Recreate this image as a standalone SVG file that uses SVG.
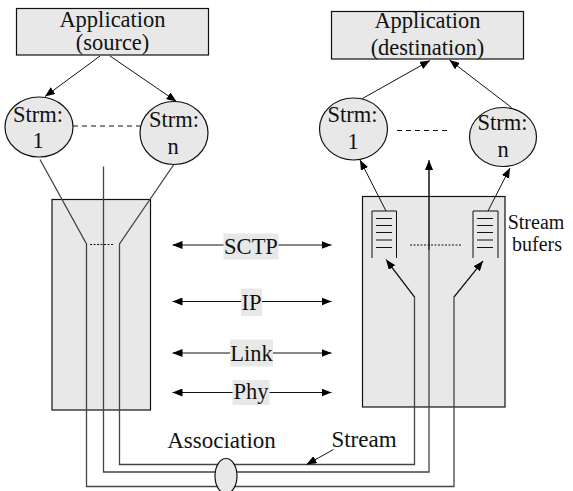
<svg xmlns="http://www.w3.org/2000/svg" width="573" height="491" viewBox="0 0 573 491">
<defs>
<marker id="ah" markerWidth="10" markerHeight="8" refX="10" refY="4" orient="auto" markerUnits="userSpaceOnUse">
<path d="M0,0 L10,4 L0,8 Z" fill="#000"/>
</marker>
<style>
.box{fill:#e8e8e8;stroke:#111;stroke-width:1.2}
.ln{fill:none;stroke:#111;stroke-width:1}
.assoc{fill:none;stroke:#444;stroke-width:1.3}
.arr{fill:none;stroke:#111;stroke-width:1;marker-end:url(#ah)}
.dash{stroke:#111;stroke-width:1;stroke-dasharray:5,4}
.dot{stroke:#111;stroke-width:1;stroke-dasharray:2,1.5}
.lbl{fill:#e8e8e8}
</style>
</defs>
<rect width="573" height="491" fill="#fff"/>

<g id="src-stack"><rect class="box" x="52" y="199.5" width="98.5" height="210.5"/></g>
<g id="dst-stack"><rect class="box" x="362.5" y="196.5" width="142.5" height="210.5"/></g>

<g id="connectors">
<path class="assoc" d="M40,159.5 L86.5,244 L86.5,486.5 L454,486.5 L454,297 L483,261"/>
<path class="assoc" d="M103.5,166.5 L103.5,472 L429,472 L429,168"/>
<path class="assoc" d="M173.5,165 L119.5,244 L119.5,464.5 L414.5,464.5 L414.5,297 L387,261"/>
<path class="arr" d="M454,297 L483,261"/>
<path class="arr" d="M414.5,297 L386,259.5"/>
<path class="arr" d="M429,250 L429,160"/>
<line class="dot" x1="90" y1="244.5" x2="114" y2="244.5"/>
<line class="dot" x1="410" y1="245" x2="462" y2="245"/>
<path class="arr" d="M100,56 L45,96.5"/>
<path class="arr" d="M110,56 L176.5,101.5"/>
<path class="arr" d="M362.5,98.5 L430,60.5"/>
<path class="arr" d="M511.5,107.5 L449.5,60"/>
<path class="arr" d="M386,211 L360,160"/>
<path class="arr" d="M488,211 L510,168"/>
<line class="dash" x1="73" y1="126" x2="140" y2="126"/>
<line class="dash" x1="397" y1="130.5" x2="447" y2="130.5"/>
<path class="arr" d="M225,245 L172.5,245"/><path class="arr" d="M276,245 L331.5,245"/>
<path class="arr" d="M242,301.5 L172.5,301.5"/><path class="arr" d="M260,301.5 L331.5,301.5"/>
<path class="arr" d="M232,353 L172.5,353"/><path class="arr" d="M271,353 L331.5,353"/>
<path class="arr" d="M234,392.5 L172.5,392.5"/><path class="arr" d="M268,392.5 L331.5,392.5"/>
<path class="arr" d="M333.5,449.5 L306.5,464.5"/>
</g>

<g font-family="'Liberation Serif', 'Times New Roman', serif" font-size="22.5" fill="#111">
<g id="app-source">
<rect class="box" x="16.5" y="8.5" width="192" height="46.5"/>
<text x="112.5" y="27" text-anchor="middle">Application</text>
<text x="112.5" y="50" text-anchor="middle">(source)</text>
</g>
<g id="app-dest">
<rect class="box" x="331.5" y="11.5" width="192" height="47.5"/>
<text x="427.5" y="27.5" text-anchor="middle">Application</text>
<text x="427.5" y="55" text-anchor="middle">(destination)</text>
</g>

<g id="src-strm1">
<ellipse class="box" cx="39" cy="127" rx="34" ry="30"/>
<text x="38" y="122" text-anchor="middle">Strm:</text>
<text x="38" y="148" text-anchor="middle">1</text>
</g>
<g id="src-strmn">
<ellipse class="box" cx="174" cy="133" rx="34" ry="31.5"/>
<text x="174" y="127" text-anchor="middle">Strm:</text>
<text x="173" y="153.5" text-anchor="middle">n</text>
</g>
<g id="dst-strm1">
<ellipse class="box" cx="353.5" cy="129" rx="34" ry="31"/>
<text x="352.5" y="122" text-anchor="middle">Strm:</text>
<text x="353" y="148.5" text-anchor="middle">1</text>
</g>
<g id="dst-strmn">
<ellipse class="box" cx="503" cy="137" rx="33.5" ry="29.5"/>
<text x="502.5" y="130" text-anchor="middle">Strm:</text>
<text x="503" y="157" text-anchor="middle">n</text>
</g>

<g id="buffer1">
<path class="ln" d="M372,258 L372,211 L396.5,211 L396.5,258"/>
<path class="ln" d="M376,218.5 H392 M376,225.5 H392 M376,232.5 H392 M376,240 H392 M376,247.5 H392"/>
</g>
<g id="buffer-n">
<path class="ln" d="M473,258 L473,211 L498,211 L498,258"/>
<path class="ln" d="M477,218.5 H493 M477,225.5 H493 M477,232.5 H493 M477,240 H493 M477,247.5 H493"/>
</g>
<g id="stream-buffers-label" font-size="20">
<text x="536" y="229" text-anchor="middle">Stream</text>
<text x="537" y="250.5" text-anchor="middle">bufers</text>
</g>

<g id="sctp"><rect class="lbl" x="223.5" y="233.5" width="55" height="26"/><text x="251" y="253.5" text-anchor="middle">SCTP</text></g>
<g id="ip"><rect class="lbl" x="241" y="288.5" width="21" height="27.5"/><text x="251.5" y="309.5" text-anchor="middle">IP</text></g>
<g id="link"><rect class="lbl" x="230" y="339.5" width="43" height="27"/><text x="251.5" y="360.5" text-anchor="middle">Link</text></g>
<g id="phy"><rect class="lbl" x="232.5" y="380" width="37" height="25"/><text x="251" y="398.5" text-anchor="middle">Phy</text></g>

<g id="association">
<text x="221.5" y="447.5" text-anchor="middle" font-size="23">Association</text>
<ellipse class="box" cx="226" cy="476" rx="11" ry="17.5"/>
</g>
<g id="stream"><text x="364" y="447" text-anchor="middle" font-size="23">Stream</text></g>
</g>
</svg>
